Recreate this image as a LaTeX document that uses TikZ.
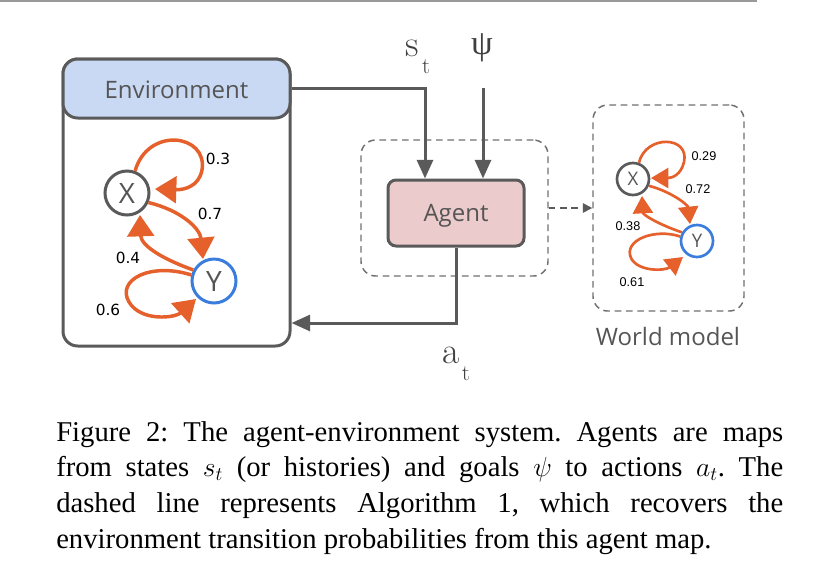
\documentclass[tikz,border=0pt]{standalone}
\usepackage{fontspec}
\usetikzlibrary{arrows.meta,calc}
\newfontfamily\osans{Open Sans}
\newfontfamily\dsans{DejaVu Sans}
\newfontfamily\lsans{Liberation Sans}
\newfontfamily\lserif{Liberation Serif}
\definecolor{dgray}{HTML}{5A5A5A}
\definecolor{tgray}{HTML}{555555}
\definecolor{lgray}{HTML}{404040}
\definecolor{mgray}{HTML}{707070}
\definecolor{hblue}{HTML}{C9D9F4}
\definecolor{apink}{HTML}{EBCBCB}
\definecolor{orng}{HTML}{E5602B}
\definecolor{blu}{HTML}{3B7DDD}
\begin{document}
\begin{tikzpicture}[x=0.75pt,y=-0.75pt,
  box/.style={draw=dgray, line width=2.25pt, rounded corners=11pt},
  conn/.style={draw=dgray, line width=2.25pt, -{Triangle[length=14pt,width=12pt]}},
  dbox/.style={draw=mgray, line width=1.1pt, dash pattern=on 5pt off 3.5pt, rounded corners=11pt},
  dconn/.style={draw=dgray, line width=1.1pt, dash pattern=on 5pt off 3.5pt, -{Triangle[length=7pt,width=7pt]}},
  oarr/.style={draw=orng, line width=2.6pt, -{Triangle[length=16pt,width=20pt]}},
  soarr/.style={draw=orng, line width=2pt, -{Triangle[length=13pt,width=15pt]}},
  bigst/.style={circle, line width=2.25pt, minimum size=33pt, inner sep=0pt, font=\osans\fontsize{21}{24}\selectfont, text=tgray},
  smst/.style={circle, line width=2pt, minimum size=24pt, inner sep=0pt, font=\osans\fontsize{14}{16}\selectfont, text=tgray},
  blabel/.style={font=\dsans\fontsize{11.5}{13}\selectfont, text=black, inner sep=0pt},
  slabel/.style={font=\lsans\fontsize{9.5}{11}\selectfont, text=black, inner sep=0pt},
  title/.style={font=\osans\fontsize{18}{21}\selectfont, text=tgray, text depth=0pt},
  mlabel/.style={font=\fontsize{28}{32}\selectfont, text=lgray, inner sep=0pt}]
\useasboundingbox (0,0) rectangle (819,587);
% top rule of the page
\draw[draw=gray!80, line width=1.1pt] (0,1) -- (757,1);

% Environment
\node[box, fill=white, minimum width=170.25pt, minimum height=215.25pt] (env) at (176.5,202.5) {};
\node[box, fill=hblue, minimum width=170.25pt, minimum height=44.25pt, title] (hdr) at (176.5,88.5) {\raisebox{-2pt}{Environment}};

% environment Markov chain
\node[bigst, draw=dgray] (X1) at (127,193) {X};
\node[bigst, draw=blu] (Y1) at (214,281) {Y};
\draw[oarr] (X1.70) .. controls (148,126) and (208,134) .. (202,170) .. controls (199,186) and (185,190) .. (155,189);
\draw[oarr] (X1.-24) .. controls (180,210) and (200,228) .. (203,259);
\draw[oarr] (Y1.152) .. controls (160,258) and (141,245) .. (140,215);
\draw[oarr] (Y1.165) .. controls (150,262) and (116,280) .. (129,302) .. controls (141,322) and (175,318) .. (196,299);
\node[blabel] (p03) at (218,159) {0.3};
\node[blabel] (p07) at (210,214) {0.7};
\node[blabel] (p04) at (128,258) {0.4};
\node[blabel] (p06) at (108,310) {0.6};

% agent
\node[dbox, minimum width=140.25pt, minimum height=102pt] (dbx) at (454.5,208) {};
\node[box, rounded corners=6pt, fill=apink, minimum width=102pt, minimum height=49.5pt, title] (agent) at (456,213) {Agent};

\coordinate (psitop) at (483,88);
\coordinate (acty) at (0,323);
\draw[conn] (hdr.east) -| ([xshift=-23.25pt]agent.north);
\draw[conn] (psitop) -- (psitop |- agent.north);
\draw[conn] (agent.south) |- (env.east |- acty);

\node[mlabel, anchor=base] (st) at (418,56) {s\hspace{2pt}\raisebox{-13pt}{\fontsize{17}{19}\selectfont t}};
\node[mlabel, anchor=center] (psi) at (482,48) {\lserif\fontsize{26}{30}\selectfont ψ};
\node[mlabel, anchor=base] (at) at (456,363) {a\hspace{2pt}\raisebox{-13pt}{\fontsize{17}{19}\selectfont t}};

% world model
\node[dbox, minimum width=113.25pt, minimum height=154.5pt] (wm) at (668.5,208) {};
\draw[dconn] (dbx.east) -- (wm.west);
\node[title] (wmt) at (668,336) {World model};

\node[smst, draw=dgray] (X2) at (633,179) {X};
\node[smst, draw=blu] (Y2) at (697,241) {Y};
\draw[soarr] (X2.70) .. controls (646,134) and (690,136) .. (684,162) .. controls (681,175) and (672,178) .. (651,178);
\draw[soarr] (X2.-23) .. controls (672,192) and (688,205) .. (690,224);
\draw[soarr] (Y2.150) .. controls (660,225) and (643,215) .. (642,196);
\draw[soarr] (Y2.165) .. controls (655,228) and (623,240) .. (631,258) .. controls (638,272) and (665,271) .. (683,257);
\node[slabel] (q29) at (704,156) {0.29};
\node[slabel] (q72) at (698,189) {0.72};
\node[slabel] (q38) at (628,226) {0.38};
\node[slabel] (q61) at (632,282) {0.61};

% caption
\node[anchor=base west, text width=545.25pt, align=justify, inner sep=0pt, font=\lserif\fontsize{21.5}{26.8}\selectfont\frenchspacing] (cap) at (56,441)
 {Figure 2: The agent-environment system. Agents are maps\linebreak from states $s_t$ (or histories) and goals $\psi$ to actions $a_t$. The\linebreak dashed line represents Algorithm 1, which recovers the\linebreak environment transition probabilities from this agent map.};
\end{tikzpicture}
\end{document}
